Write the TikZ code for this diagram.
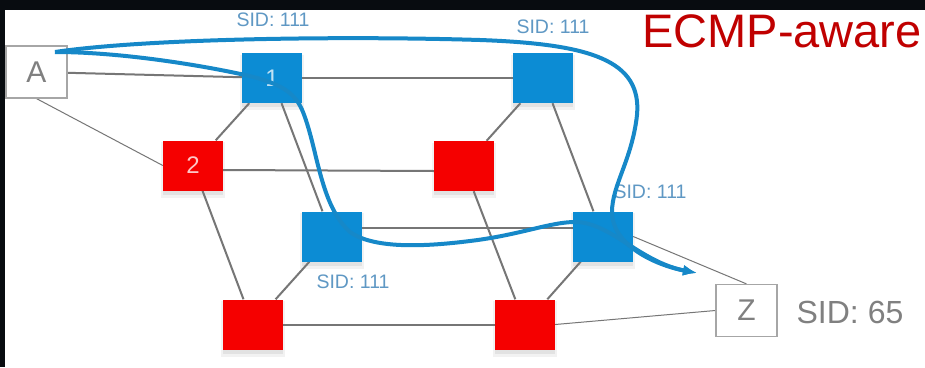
\documentclass[tikz,border=0pt]{standalone}
\usepackage{fontspec}
\setmainfont{Liberation Sans}
\usetikzlibrary{arrows.meta}

\definecolor{sqblue}{RGB}{12,140,212}
\definecolor{sqred}{RGB}{245,0,0}
\definecolor{pathblue}{RGB}{22,136,200}
\definecolor{sidblue}{RGB}{95,152,196}
\definecolor{linkgray}{RGB}{118,118,118}
\definecolor{labelgray}{RGB}{128,128,128}
\definecolor{titlered}{RGB}{192,0,0}
\definecolor{framecol}{RGB}{8,12,16}
\definecolor{shadowgray}{RGB}{226,226,226}
\definecolor{shadowhalo}{RGB}{242,242,242}

\pgfdeclarelayer{bg}
\pgfdeclarelayer{edges}
\pgfsetlayers{bg,edges,main}

\begin{document}
\begin{tikzpicture}[x=1pt,y=-1pt,
  router/.style={minimum width=60pt,minimum height=50pt,inner sep=0pt},
  bluebox/.style={router,fill=sqblue,text=white!75!sqblue,font=\fontsize{24}{24}\selectfont},
  redbox/.style={router,fill=sqred,text=white!78!sqred,font=\fontsize{24}{24}\selectfont},
  endbox/.style={draw=labelgray!70,line width=1.2pt,fill=white,minimum width=61pt,
    minimum height=52pt,inner sep=0pt,text=labelgray,font=\fontsize{30}{30}\selectfont},
  link/.style={draw=linkgray,line width=2pt},
  thinlink/.style={draw=linkgray,line width=1pt},
  sid/.style={text=sidblue,font=\fontsize{19.5}{20}\selectfont,inner sep=0pt},
  route/.style={draw=pathblue,line width=4pt,-{Latex[length=14pt,width=11pt]}}
]
% frame and canvas
\begin{pgfonlayer}{bg}
  \fill[framecol] (0,0) rectangle (925,367);
  \fill[white] (5,10) rectangle (925,367);
\end{pgfonlayer}
\useasboundingbox (0,0) rectangle (925,367);

% end points and routers
\node[endbox] (A) at (36.5,72) {A};
\node[bluebox] (n1) at (272,78) {1};
\node[bluebox] (n3) at (543,78) {};
\node[redbox] (n2) at (193,165.5) {2};
\node[redbox] (n4) at (464,166) {};
\node[bluebox] (n5) at (332,236.5) {};
\node[bluebox] (n6) at (603,236.5) {};
\node[redbox] (n7) at (253,324.5) {};
\node[redbox] (n8) at (525,324.5) {};
\node[endbox] (Z) at (746.5,310.5) {Z};

% soft shadows under the routers
\begin{pgfonlayer}{bg}
  \foreach \r in {n1,n2,n3,n4,n5,n6,n7,n8}{
    \fill[shadowhalo] ([xshift=-2pt,yshift=-7pt]\r.south west) rectangle ([xshift=2pt,yshift=-2pt]\r.north east);
    \fill[shadowgray] ([xshift=0pt,yshift=-4pt]\r.south west) rectangle ([yshift=-4pt]\r.north east);
  }
\end{pgfonlayer}

% physical links
\begin{pgfonlayer}{edges}
  \draw[link] (A) -- (n1);
  \draw[thinlink] (A.south) -- (n2.west);
  \draw[link] (n1) -- (n3);
  \draw[link] (n1) -- (n2);
  \draw[link] (n1) -- (n5);
  \draw[link] ([yshift=-4.5pt]n2.east) -- ([yshift=-5pt]n4.west);
  \draw[link] (n2) -- (n7);
  \draw[link] (n3) -- (n4);
  \draw[link] (n3) -- (n6);
  \draw[link] (n4) -- (n8);
  \draw[link] ([yshift=8.5pt]n5.east) -- ([yshift=8.5pt]n6.west);
  \draw[link] (n5) -- (n7);
  \draw[link] (n6) -- (n8);
  \draw[link] (n7) -- (n8);
  \draw[thinlink] (n8.east) -- (Z.west);
  \draw[thinlink] (n6.east) -- (Z.north);
\end{pgfonlayer}

% labels
\node[sid] (s1) at (273,20) {SID: 111};
\node[sid] (s3) at (553,27) {SID: 111};
\node[sid] (s6) at (650,192) {SID: 111};
\node[sid] (s5) at (353,282) {SID: 111};
\node[text=labelgray,font=\fontsize{32}{32}\selectfont,inner sep=0pt] (zsid) at (850,312) {SID: 65};
\node[text=titlered,font=\fontsize{47}{47}\selectfont,inner sep=0pt] (title) at (782,31) {ECMP-aware};

% equal-cost forwarding paths
\coordinate (src) at (55,52);
\coordinate (dst) at (697,273);
\draw[route] (src) .. controls (150,38) and (350,36) .. (480,40)
  .. controls (590,44) and (642,60) .. (637,115)
  .. controls (632,160) and (612,185) .. (612,212)
  .. controls (612,245) and (655,265) .. (dst);
\draw[route] (src) .. controls (120,52) and (200,65) .. (245,75)
  .. controls (285,84) and (296,95) .. (303,112)
  .. controls (318,150) and (320,205) .. (350,232)
  .. controls (375,250) and (430,246) .. (470,241)
  .. controls (520,235) and (550,222) .. (575,222)
  .. controls (610,222) and (640,262) .. (dst);
\end{tikzpicture}
\end{document}
